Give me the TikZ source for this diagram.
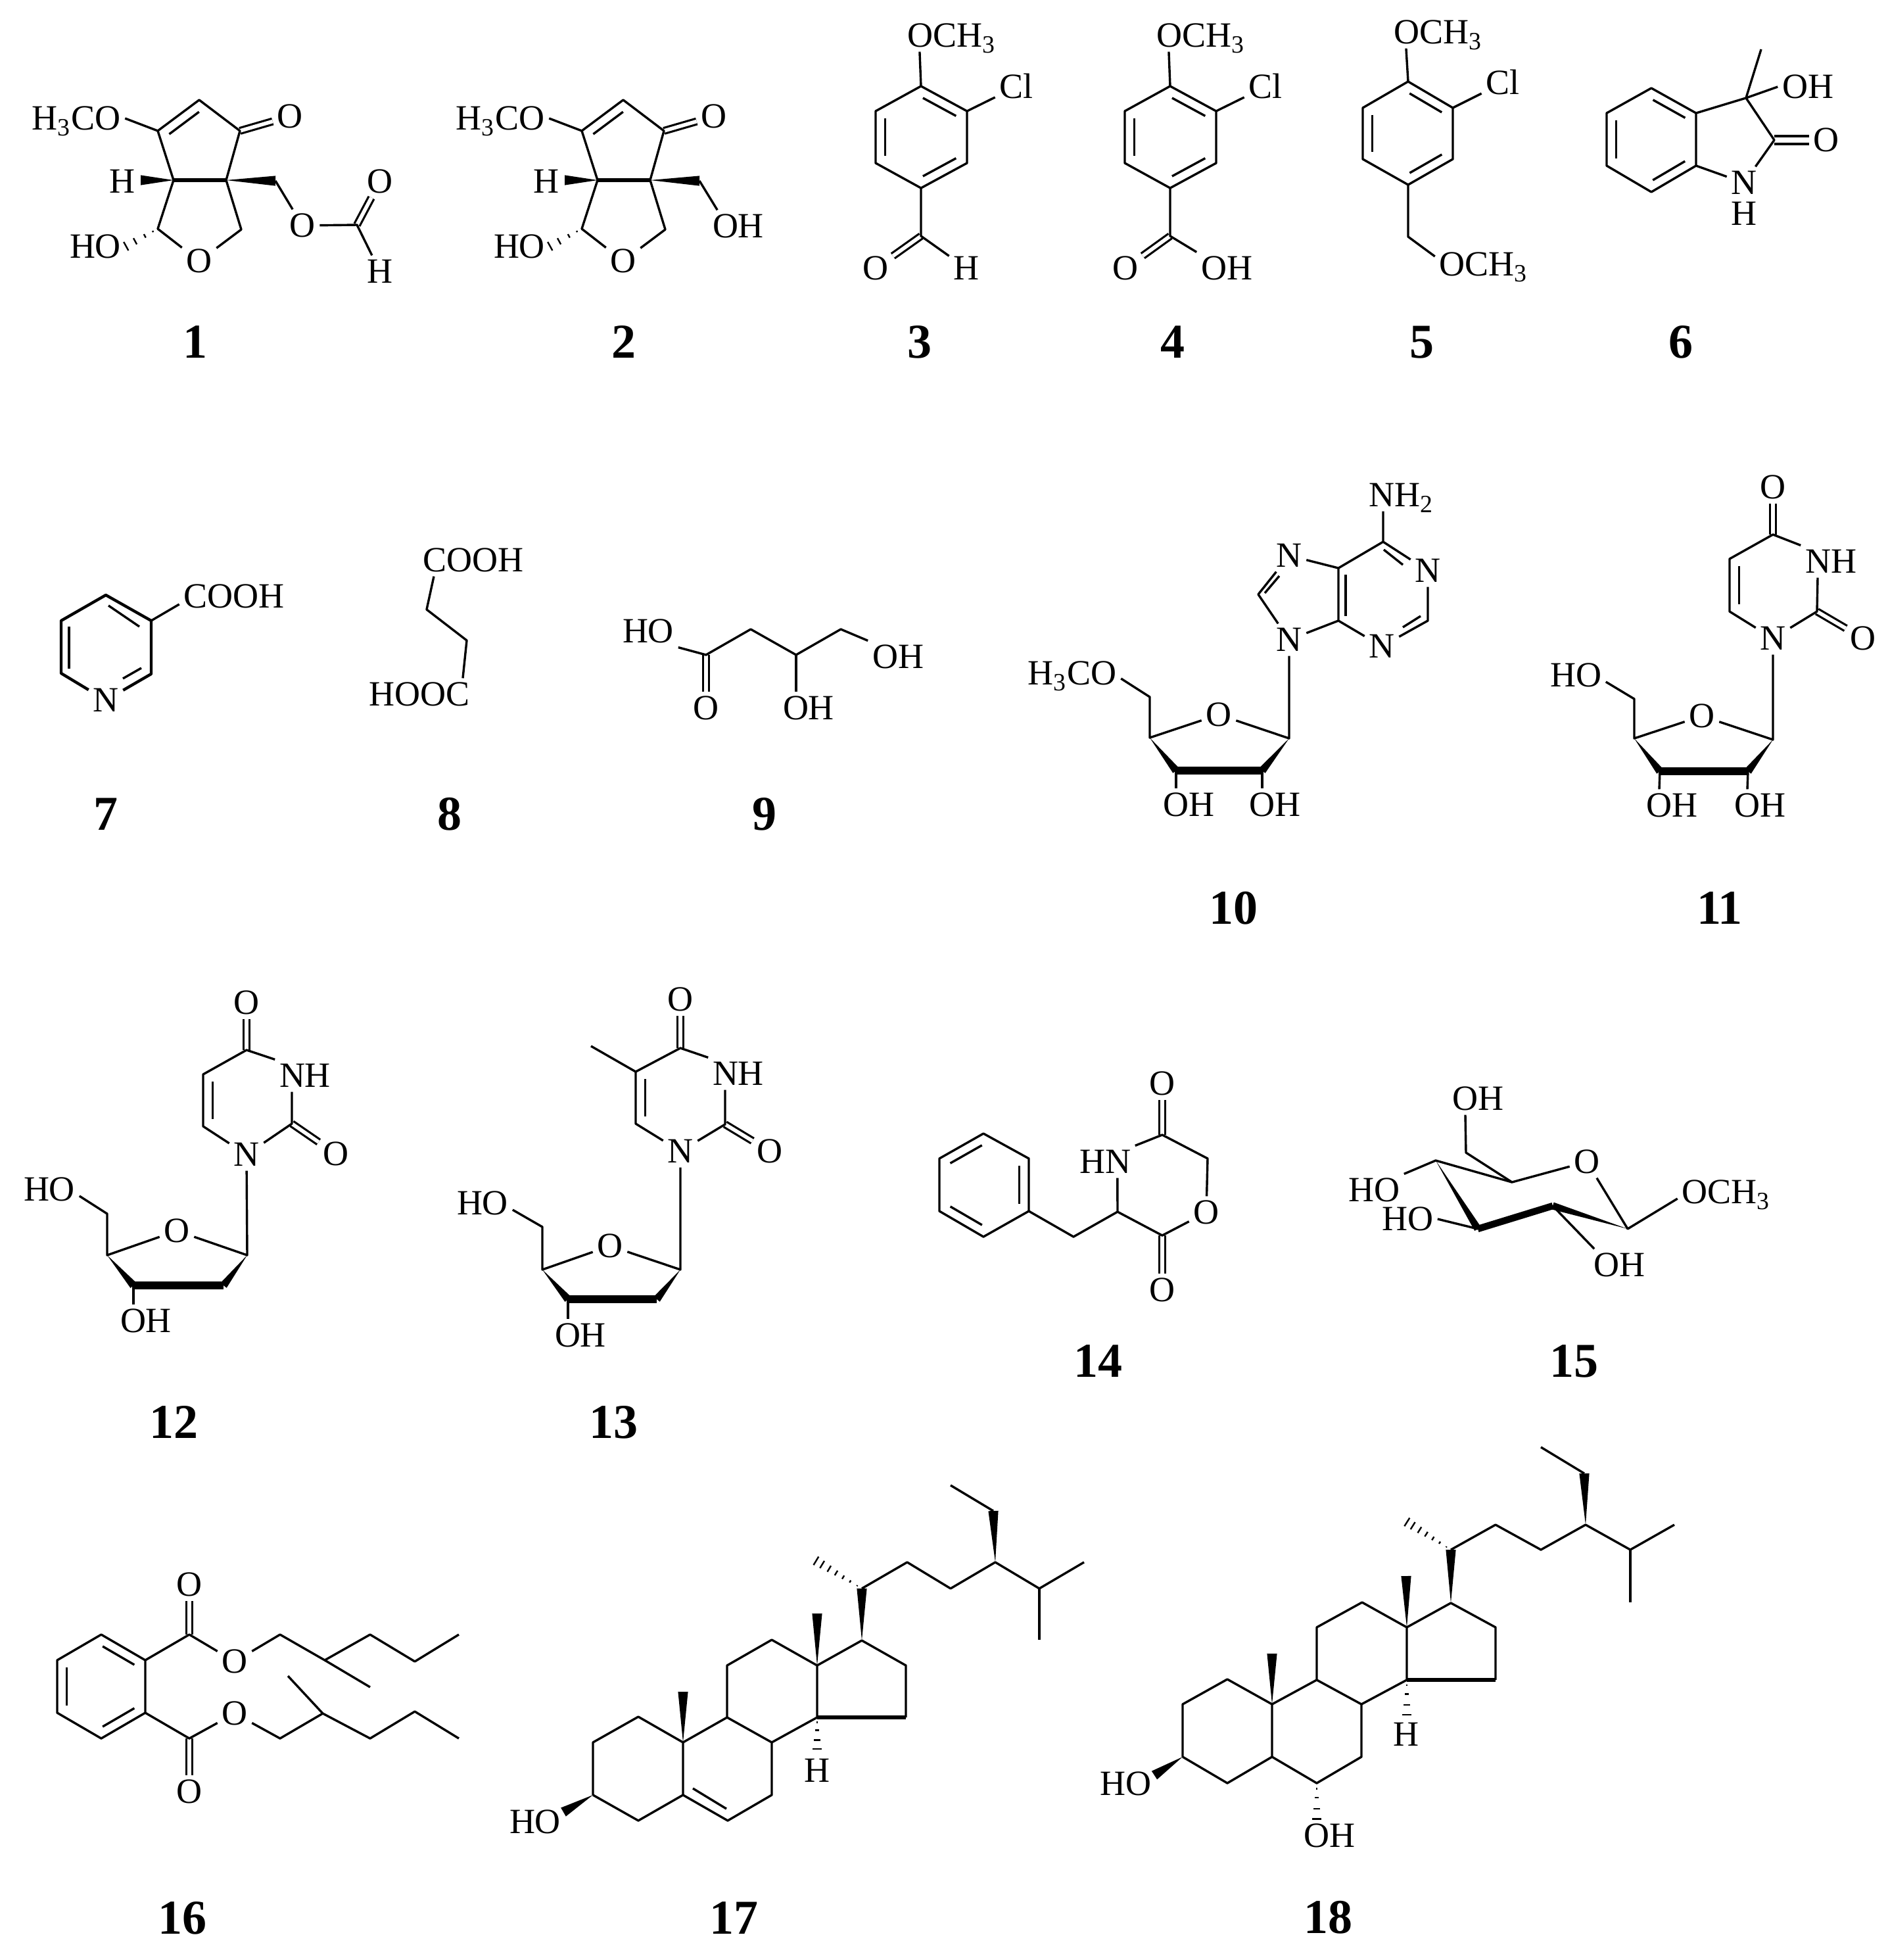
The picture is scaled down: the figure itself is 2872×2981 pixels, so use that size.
\documentclass[tikz,border=0pt]{standalone}
\usepackage{fontspec}
\setmainfont{Liberation Serif}
\usetikzlibrary{calc}
\tikzstyle{atom}=[inner sep=1.5pt, text height=8.9pt, text depth=0pt, font=\fontsize{13.5}{15}\selectfont]
\tikzstyle{molnum}=[inner sep=0pt, text height=12.5pt, text depth=0pt, font=\fontsize{18.5}{20}\selectfont\bfseries]
\tikzstyle{bond}=[line width=.85pt, line join=round]
\tikzstyle{dbl}=[line width=.8pt, double, double distance=1.4pt]
\tikzstyle{boldb}=[line width=3pt, line join=round]
\tikzstyle{midb}=[line width=1.5pt]
\newcommand{\bondin}[2]{\draw[bond] ($(#1)!.14!(#2)!3.6pt!90:(#2)$) -- ($(#2)!.14!(#1)!3.6pt!-90:(#1)$);}
\newcommand{\wedgebond}[3][1.9pt]{\fill (#2) -- ($(#3)!#1!90:(#2)$) -- ($(#3)!#1!-90:(#2)$) -- cycle;}
\newcommand{\hashbond}[3][.15,.4,.7,.98]{\foreach \p in {#1}{\draw[line width=.6pt] ($(#2)!\p!(#3)!\p*1.9pt!90:(#3)$) -- ($(#2)!\p!(#3)!\p*1.9pt!-90:(#3)$);}}
\begin{document}
\begin{tikzpicture}[x=.25pt,y=-.25pt]
\useasboundingbox (0,0) rectangle (2872,2981);

\begin{scope}[name prefix=m1-]
\coordinate (c1) at (303,152); \coordinate (c2) at (240,199); \coordinate (c3) at (365,199);
\coordinate (c4) at (264,274); \coordinate (c5) at (344,274); \coordinate (c6) at (240,348);
\coordinate (c7) at (367,349); \coordinate (c8) at (419,275); \coordinate (c9) at (543,342);
\coordinate (hw) at (214,274);
\node[atom] (ome) at (116,180) {H\textsubscript{3}CO};
\node[atom] (ok) at (441,177) {O};
\node[atom] (h) at (186,276) {H};
\node[atom] (ho) at (145,375) {HO};
\node[atom] (o) at (303,397) {O};
\node[atom] (oe) at (460,343) {O};
\node[atom] (of) at (578,276) {O};
\node[atom] (hf) at (578,413) {H};
\draw[dbl] (c3) -- (ok);
\draw[dbl] (c9) -- (of);
\draw[bond] (c2) -- (c4) -- (c6) -- (o) -- (c7) -- (c5) -- (c3) -- (c1) -- (c2) -- (ome.east);
\draw[midb] (c4) -- (c5);
\draw[bond] (c8) -- (oe) -- (c9) -- (hf);
\bondin{c1}{c2}
\wedgebond{c4}{hw}
\wedgebond{c5}{c8}
\hashbond{c6}{ho.east}
\node[molnum] (n1) at (297,519) {1};
\end{scope}

\begin{scope}[name prefix=m2-]
\coordinate (c1) at (948,152); \coordinate (c2) at (885,199); \coordinate (c3) at (1010,199);
\coordinate (c4) at (909,274); \coordinate (c5) at (989,274); \coordinate (c6) at (885,348);
\coordinate (c7) at (1012,349); \coordinate (c8) at (1064,275);
\coordinate (hw) at (859,274);
\node[atom] (ome) at (761,180) {H\textsubscript{3}CO};
\node[atom] (ok) at (1086,177) {O};
\node[atom] (h) at (831,276) {H};
\node[atom] (ho) at (790,375) {HO};
\node[atom] (o) at (948,397) {O};
\node[atom] (oh) at (1123,344) {OH};
\draw[dbl] (c3) -- (ok);
\draw[bond] (c2) -- (c4) -- (c6) -- (o) -- (c7) -- (c5) -- (c3) -- (c1) -- (c2) -- (ome.east);
\draw[midb] (c4) -- (c5);
\draw[bond] (c8) -- ([xshift=3.5pt]oh.north west);
\bondin{c1}{c2}
\wedgebond{c4}{hw}
\wedgebond{c5}{c8}
\hashbond{c6}{ho.east}
\node[molnum] (n2) at (949,519) {2};
\end{scope}

\begin{scope}[name prefix=m3-]
\coordinate (a) at (1401,131); \coordinate (b) at (1471,169); \coordinate (c) at (1471,248);
\coordinate (d) at (1401,286); \coordinate (e) at (1332,248); \coordinate (f) at (1332,169);
\coordinate (g) at (1401,359);
\node[atom] (ome) at (1448,54) {OCH\textsubscript{3}};
\node[atom] (cl) at (1546,132) {Cl};
\node[atom] (o) at (1332,408) {O};
\node[atom] (h) at (1470,408) {H};
\draw[dbl] (g) -- (o);
\draw[bond] (a) -- (b) -- (c) -- (d) -- (e) -- (f) -- cycle;
\draw[bond] (a) -- ([xshift=6.3pt]ome.south west);
\draw[bond] (b) -- (cl);
\draw[bond] (d) -- (g) -- (h);
\bondin{b}{a}
\bondin{d}{c}
\bondin{f}{e}
\node[molnum] (n3) at (1399,519) {3};
\end{scope}

\begin{scope}[name prefix=m4-]
\coordinate (a) at (1780,131); \coordinate (b) at (1850,169); \coordinate (c) at (1850,248);
\coordinate (d) at (1780,286); \coordinate (e) at (1711,248); \coordinate (f) at (1711,169);
\coordinate (g) at (1780,359);
\node[atom] (ome) at (1827,54) {OCH\textsubscript{3}};
\node[atom] (cl) at (1925,132) {Cl};
\node[atom] (o) at (1712,408) {O};
\node[atom] (oh) at (1866,408) {OH};
\draw[dbl] (g) -- (o);
\draw[bond] (a) -- (b) -- (c) -- (d) -- (e) -- (f) -- cycle;
\draw[bond] (a) -- ([xshift=6.3pt]ome.south west);
\draw[bond] (b) -- (cl);
\draw[bond] (d) -- (g) -- (oh.north west);
\bondin{b}{a}
\bondin{d}{c}
\bondin{f}{e}
\node[molnum] (n4) at (1784,519) {4};
\end{scope}

\begin{scope}[name prefix=m5-]
\coordinate (a) at (2142,124); \coordinate (b) at (2210,164); \coordinate (c) at (2210,242);
\coordinate (d) at (2142,281); \coordinate (e) at (2073,242); \coordinate (f) at (2073,164);
\coordinate (g) at (2142,360);
\node[atom] (ome) at (2188,49) {OCH\textsubscript{3}};
\node[atom] (cl) at (2286,126) {Cl};
\node[atom] (oml) at (2257,402) {OCH\textsubscript{3}};
\draw[bond] (a) -- (b) -- (c) -- (d) -- (e) -- (f) -- cycle;
\draw[bond] (a) -- ([xshift=6.3pt]ome.south west);
\draw[bond] (b) -- (cl);
\draw[bond] (d) -- (g) -- ([yshift=3pt]oml.west);
\bondin{b}{a}
\bondin{d}{c}
\bondin{f}{e}
\node[molnum] (n5) at (2163,519) {5};
\end{scope}

\begin{scope}[name prefix=m6-]
\coordinate (a) at (2512,134); \coordinate (b) at (2580,172); \coordinate (c) at (2580,252);
\coordinate (d) at (2512,292); \coordinate (e) at (2444,252); \coordinate (f) at (2444,172);
\coordinate (g) at (2656,149); \coordinate (k) at (2699,213); \coordinate (me) at (2679,75);
\node[atom] (oh) at (2750,132) {OH};
\node[atom] (o) at (2778,213) {O};
\node[atom] (nn) at (2653,278) {N};
\node[atom, inner sep=0pt] (h) at (2653,325) {H};
\draw[dbl, double distance=2.2pt] (k) -- (o);
\draw[bond] (a) -- (b) -- (c) -- (d) -- (e) -- (f) -- cycle;
\draw[bond] (me) -- (g) -- (k) -- (nn) -- (c);
\draw[bond] (b) -- (g) -- (oh.west);
\bondin{b}{a}
\bondin{d}{c}
\bondin{f}{e}
\node[molnum] (n6) at (2557,519) {6};
\end{scope}

\begin{scope}[name prefix=m7-]
\coordinate (a) at (161,905); \coordinate (b) at (230,944); \coordinate (c) at (230,1025);
\coordinate (e) at (93,1024); \coordinate (f) at (93,944);
\coordinate (i1) at (165,921); \coordinate (i2) at (212,953); \coordinate (i3) at (105,953);
\coordinate (i4) at (105,1017); \coordinate (i5) at (187,1032); \coordinate (i6) at (215,1016);
\node[atom] (nn) at (161,1065) {N};
\node[atom] (cooh) at (356,907) {COOH};
\draw[line width=1.1pt, line join=round] (nn) -- (e) -- (f) -- (a) -- (b) -- (c) -- (nn);
\draw[bond] (b) -- ([yshift=-3pt]cooh.west);
\draw[bond] (i1) -- (i2);
\draw[bond] (i3) -- (i4);
\draw[bond] (i5) -- (i6);
\node[molnum] (n7) at (161,1237) {7};
\end{scope}

\begin{scope}[name prefix=m8-]
\coordinate (a) at (649,927); \coordinate (b) at (710,974);
\node[atom] (cooh) at (720,852) {COOH};
\node[atom] (hooc) at (638,1056) {HOOC};
\draw[bond] ([xshift=-15pt]cooh.south) -- (a) -- (b) -- ([xshift=16.5pt]hooc.north);
\node[molnum] (n8) at (684,1237) {8};
\end{scope}

\begin{scope}[name prefix=m9-]
\coordinate (a) at (1074,996); \coordinate (b) at (1142,957); \coordinate (c) at (1211,996);
\coordinate (d) at (1279,957);
\node[atom] (ho) at (986,960) {HO};
\node[atom] (o) at (1074,1077) {O};
\node[atom] (oh) at (1230,1077) {OH};
\node[atom] (ohr) at (1366,999) {OH};
\draw[dbl] (a) -- (o);
\draw[bond] (ho.south east) -- (a) -- (b) -- (c) -- (d) -- (ohr.north west);
\draw[bond] (c) -- ([xshift=-4.75pt]oh.north);
\node[molnum] (n9) at (1163,1237) {9};
\end{scope}

\begin{scope}[name prefix=m10-]
\coordinate (c6) at (2104,824); \coordinate (c2) at (2172,944); \coordinate (c4) at (2036,944);
\coordinate (c5) at (2036,864); \coordinate (c8) at (1914,904);
\coordinate (c1p) at (1961,1123); \coordinate (c2p) at (1920,1172); \coordinate (c3p) at (1789,1172);
\coordinate (c4p) at (1749,1122); \coordinate (c5p) at (1749,1060);
\coordinate (i1) at (2105,836); \coordinate (i2) at (2134,859); \coordinate (i3) at (2134,954);
\coordinate (i4) at (2161,937); \coordinate (i5) at (2047,874); \coordinate (i6) at (2047,937);
\coordinate (i7) at (1924,902); \coordinate (i8) at (1946,876);
\node[atom] (nh) at (2132,753) {NH\textsubscript{2}};
\node[atom] (n1a) at (2172,868) {N};
\node[atom] (n3a) at (2102,983) {N};
\node[atom] (n7a) at (1961,845) {N};
\node[atom] (n9a) at (1961,973) {N};
\node[atom] (o) at (1854,1087) {O};
\node[atom] (ome) at (1631,1024) {H\textsubscript{3}CO};
\node[atom] (oh1) at (1808,1224) {OH};
\node[atom] (oh2) at (1939,1224) {OH};
\draw[bond] ([xshift=-7pt]nh.south) -- (c6) -- (n1a) -- (c2) -- (n3a) -- (c4) -- (c5) -- (c6);
\draw[bond] (c5) -- (n7a) -- (c8) -- (n9a) -- (c4);
\draw[bond] (i1) -- (i2);
\draw[bond] (i3) -- (i4);
\draw[bond] (i5) -- (i6);
\draw[bond] (i7) -- (i8);
\draw[bond] (n9a) -- (c1p) -- (o) -- (c4p) -- (c5p) -- ([yshift=-2pt]ome.east);
\draw[boldb] (c3p) -- (c2p);
\wedgebond[1.5pt]{c4p}{c3p}
\wedgebond[1.5pt]{c1p}{c2p}
\draw[bond] (c3p) -- ([xshift=-4.75pt]oh1.north);
\draw[bond] (c2p) -- ([xshift=-4.75pt]oh2.north);
\node[molnum] (n10) at (1876,1380) {10};
\end{scope}

\begin{scope}[name prefix=m11-]
\coordinate (c4) at (2697,813); \coordinate (c5) at (2631,850); \coordinate (c6) at (2631,930);
\coordinate (c2) at (2764,930);
\coordinate (c1p) at (2697,1125); \coordinate (c2p) at (2659,1173); \coordinate (c3p) at (2525,1173);
\coordinate (c4p) at (2486,1123); \coordinate (c5p) at (2486,1063);
\node[atom] (ot) at (2697,741) {O};
\node[atom] (nh) at (2785,854) {NH};
\node[atom] (n1a) at (2697,971) {N};
\node[atom] (or) at (2834,971) {O};
\node[atom] (o) at (2589,1089) {O};
\node[atom] (ho) at (2397,1027) {HO};
\node[atom] (oh1) at (2543,1225) {OH};
\node[atom] (oh2) at (2677,1225) {OH};
\draw[dbl] (c4) -- (ot);
\draw[dbl] (c2) -- (or);
\draw[bond] (n1a) -- (c6) -- (c5) -- (c4) -- (nh.north west);
\draw[bond] ([xshift=-5pt]nh.south) -- (c2) -- (n1a);
\bondin{c5}{c6}
\draw[bond] (n1a) -- (c1p) -- (o) -- (c4p) -- (c5p) -- ([yshift=-2.5pt]ho.east);
\draw[boldb] (c3p) -- (c2p);
\wedgebond[1.5pt]{c4p}{c3p}
\wedgebond[1.5pt]{c1p}{c2p}
\draw[bond] (c3p) -- ([xshift=-4.75pt]oh1.north);
\draw[bond] (c2p) -- ([xshift=-4.75pt]oh2.north);
\node[molnum] (n11) at (2616,1380) {11};
\end{scope}

\begin{scope}[name prefix=m12-]
\coordinate (c4) at (375,1597); \coordinate (c5) at (309,1634); \coordinate (c6) at (309,1713);
\coordinate (c2) at (444,1709);
\coordinate (c1p) at (376,1909); \coordinate (c2p) at (340,1955); \coordinate (c3p) at (203,1955);
\coordinate (c4p) at (163,1909); \coordinate (c5p) at (163,1846);
\node[atom] (ot) at (375,1525) {O};
\node[atom] (nh) at (464,1636) {NH};
\node[atom] (n1a) at (375,1756) {N};
\node[atom] (or) at (511,1755) {O};
\node[atom] (o) at (269,1872) {O};
\node[atom] (ho) at (75,1809) {HO};
\node[atom] (oh) at (222,2009) {OH};
\draw[dbl] (c4) -- (ot);
\draw[dbl] (c2) -- (or);
\draw[bond] (n1a) -- (c6) -- (c5) -- (c4) -- (nh.north west);
\draw[bond] ([xshift=-5pt]nh.south) -- (c2) -- (n1a);
\bondin{c5}{c6}
\draw[bond] (n1a) -- (c1p) -- (o) -- (c4p) -- (c5p) -- ([yshift=-2.5pt]ho.east);
\draw[boldb] (c3p) -- (c2p);
\wedgebond[1.5pt]{c4p}{c3p}
\wedgebond[1.5pt]{c1p}{c2p}
\draw[bond] (c3p) -- ([xshift=-4.75pt]oh.north);
\node[molnum] (n12) at (264,2162) {12};
\end{scope}

\begin{scope}[name prefix=m13-]
\coordinate (c4) at (1035,1594); \coordinate (c5) at (967,1630); \coordinate (c6) at (967,1709);
\coordinate (c2) at (1103,1710); \coordinate (me) at (899,1591);
\coordinate (c1p) at (1035,1931); \coordinate (c2p) at (999,1976); \coordinate (c3p) at (864,1976);
\coordinate (c4p) at (825,1931); \coordinate (c5p) at (825,1866);
\node[atom] (ot) at (1035,1520) {O};
\node[atom] (nh) at (1123,1633) {NH};
\node[atom] (n1a) at (1035,1751) {N};
\node[atom] (or) at (1171,1751) {O};
\node[atom] (o) at (928,1895) {O};
\node[atom] (ho) at (734,1830) {HO};
\node[atom] (oh) at (883,2031) {OH};
\draw[dbl] (c4) -- (ot);
\draw[dbl] (c2) -- (or);
\draw[bond] (n1a) -- (c6) -- (c5) -- (c4) -- (nh.north west);
\draw[bond] (c5) -- (me);
\draw[bond] ([xshift=-5pt]nh.south) -- (c2) -- (n1a);
\bondin{c5}{c6}
\draw[bond] (n1a) -- (c1p) -- (o) -- (c4p) -- (c5p) -- ([yshift=-2.5pt]ho.east);
\draw[boldb] (c3p) -- (c2p);
\wedgebond[1.5pt]{c4p}{c3p}
\wedgebond[1.5pt]{c1p}{c2p}
\draw[bond] (c3p) -- ([xshift=-4.75pt]oh.north);
\node[molnum] (n13) at (933,2162) {13};
\end{scope}

\begin{scope}[name prefix=m14-]
\coordinate (a) at (1496,1724); \coordinate (b) at (1565,1762); \coordinate (c) at (1565,1842);
\coordinate (d) at (1496,1881); \coordinate (e) at (1429,1842); \coordinate (f) at (1429,1762);
\coordinate (g) at (1633,1881); \coordinate (h) at (1700,1843); \coordinate (k) at (1768,1726);
\coordinate (l) at (1837,1762); \coordinate (m) at (1768,1879);
\node[atom] (hn) at (1681,1767) {HN};
\node[atom] (ot) at (1768,1648) {O};
\node[atom] (or) at (1835,1844) {O};
\node[atom] (ob) at (1768,1962) {O};
\draw[dbl] (k) -- (ot);
\draw[dbl] (m) -- (ob);
\draw[bond] (a) -- (b) -- (c) -- (d) -- (e) -- (f) -- cycle;
\draw[bond] (c) -- (g) -- (h) -- ([xshift=4.7pt]hn.south);
\draw[bond] (hn.north east) -- (k) -- (l) -- (or) -- (m) -- (h);
\bondin{a}{f}
\bondin{c}{b}
\bondin{e}{d}
\node[molnum] (n14) at (1670,2069) {14};
\end{scope}

\begin{scope}[name prefix=m15-]
\coordinate (c1) at (2476,1869); \coordinate (c2) at (2362,1834); \coordinate (c3) at (2248,1869);
\coordinate (c4) at (2184,1765); \coordinate (c5) at (2300,1798); \coordinate (c6) at (2230,1753);
\node[atom] (oh) at (2248,1671) {OH};
\node[atom] (o) at (2414,1767) {O};
\node[atom] (ome) at (2626,1813) {OCH\textsubscript{3}};
\node[atom] (ho1) at (2090,1810) {HO};
\node[atom] (ho2) at (2141,1854) {HO};
\node[atom] (ohb) at (2463,1924) {OH};
\draw[bond] ([xshift=-4.75pt]oh.south) -- (c6) -- (c5) -- (o) -- (c1) -- ([yshift=-2.5pt]ome.west);
\draw[bond] (ho1.north east) -- (c4) -- (c5);
\draw[bond] (ho2.east) -- (c3);
\draw[bond] (c2) -- ([xshift=2pt]ohb.north west);
\draw[line width=2.6pt] (c3) -- (c2);
\wedgebond[1.4pt]{c4}{c3}
\wedgebond[1.4pt]{c1}{c2}
\node[molnum] (n15) at (2394,2069) {15};
\end{scope}

\begin{scope}[name prefix=m16-]
\coordinate (a) at (221,2525); \coordinate (b) at (221,2605); \coordinate (c) at (154,2644);
\coordinate (d) at (87,2605); \coordinate (e) at (87,2525); \coordinate (f) at (154,2486);
\coordinate (g) at (288,2486); \coordinate (h) at (426,2486); \coordinate (k) at (494,2525);
\coordinate (l) at (563,2566); \coordinate (m) at (563,2486); \coordinate (p) at (631,2527);
\coordinate (q) at (698,2486);
\coordinate (r) at (288,2644); \coordinate (s) at (426,2644); \coordinate (t) at (491,2606);
\coordinate (u) at (438,2549); \coordinate (v) at (563,2644); \coordinate (w) at (631,2603);
\coordinate (z) at (698,2644);
\node[atom] (ot) at (288,2410) {O};
\node[atom] (o1) at (357,2527) {O};
\node[atom] (ob) at (288,2725) {O};
\node[atom] (o2) at (357,2606) {O};
\draw[dbl] (g) -- (ot);
\draw[dbl] (r) -- (ob);
\draw[bond] (a) -- (b) -- (c) -- (d) -- (e) -- (f) -- cycle;
\draw[bond] (a) -- (g) -- (o1) -- (h) -- (k) -- (m) -- (p) -- (q);
\draw[bond] (k) -- (l);
\draw[bond] (b) -- (r) -- (o2) -- (s) -- (t) -- (v) -- (w) -- (z);
\draw[bond] (t) -- (u);
\bondin{a}{f}
\bondin{c}{b}
\bondin{e}{d}
\node[molnum] (n16) at (277,2916) {16};
\end{scope}

\begin{scope}[name prefix=m17-]
\coordinate (c1) at (971,2611); \coordinate (c2) at (902,2650); \coordinate (c3) at (902,2730);
\coordinate (c4) at (971,2769); \coordinate (c5) at (1039,2730); \coordinate (c6) at (1107,2769);
\coordinate (c7) at (1174,2730); \coordinate (c8) at (1174,2650); \coordinate (c9) at (1106,2612);
\coordinate (c10) at (1039,2650); \coordinate (c11) at (1106,2533); \coordinate (c12) at (1174,2494);
\coordinate (c13) at (1243,2533); \coordinate (c14) at (1243,2612); \coordinate (c15) at (1378,2612);
\coordinate (c16) at (1378,2533); \coordinate (c17) at (1311,2495); \coordinate (c18) at (1243,2454);
\coordinate (c19) at (1039,2573); \coordinate (c20) at (1311,2416); \coordinate (c21) at (1240,2373);
\coordinate (c22) at (1380,2376); \coordinate (c23) at (1446,2416); \coordinate (c24) at (1514,2376);
\coordinate (c25) at (1581,2416); \coordinate (c26) at (1649,2376); \coordinate (c27) at (1581,2494);
\coordinate (c28) at (1511,2298); \coordinate (c29) at (1446,2259);
\coordinate (w) at (857,2756); \coordinate (i1) at (1054,2720); \coordinate (i2) at (1105,2751);
\coordinate (hh) at (1243,2661);
\node[atom] (ho) at (814,2771) {HO};
\node[atom] (h) at (1243,2693) {H};
\draw[bond] (c3) -- (c2) -- (c1) -- (c10) -- (c5) -- (c4) -- (c3);
\draw[bond] (c5) -- (c6) -- (c7) -- (c8) -- (c9) -- (c10);
\draw[bond] (c9) -- (c11) -- (c12) -- (c13) -- (c14) -- (c8);
\draw[bond] (c13) -- (c17) -- (c16) -- (c15);
\draw[midb] (c15) -- (c14);
\draw[bond] (i1) -- (i2);
\draw[bond] (c20) -- (c22) -- (c23) -- (c24) -- (c25) -- (c26);
\draw[bond] (c25) -- (c27);
\draw[bond] (c28) -- (c29);
\wedgebond{c10}{c19}
\wedgebond{c13}{c18}
\wedgebond{c17}{c20}
\wedgebond{c24}{c28}
\wedgebond{c3}{w}
\hashbond{c14}{hh}
\hashbond[.1,.25,.4,.55,.7,.85,.98]{c20}{c21}
\node[molnum] (n17) at (1116,2916) {17};
\end{scope}

\begin{scope}[name prefix=m18-]
\coordinate (c1) at (1867,2554); \coordinate (c2) at (1799,2592); \coordinate (c3) at (1799,2672);
\coordinate (c4) at (1867,2712); \coordinate (c5) at (1935,2672); \coordinate (c6) at (2003,2712);
\coordinate (c7) at (2071,2672); \coordinate (c8) at (2071,2592); \coordinate (c9) at (2003,2555);
\coordinate (c10) at (1935,2592); \coordinate (c11) at (2003,2475); \coordinate (c12) at (2072,2437);
\coordinate (c13) at (2140,2475); \coordinate (c14) at (2140,2555); \coordinate (c15) at (2275,2555);
\coordinate (c16) at (2275,2475); \coordinate (c17) at (2207,2438); \coordinate (c18) at (2139,2397);
\coordinate (c19) at (1935,2515); \coordinate (c20) at (2207,2357); \coordinate (c21) at (2139,2314);
\coordinate (c22) at (2275,2319); \coordinate (c23) at (2344,2357); \coordinate (c24) at (2412,2319);
\coordinate (c25) at (2480,2357); \coordinate (c26) at (2547,2319); \coordinate (c27) at (2480,2437);
\coordinate (c28) at (2410,2241); \coordinate (c29) at (2344,2201);
\coordinate (w) at (1756,2700); \coordinate (hh) at (2140,2609);
\node[atom] (ho) at (1712,2713) {HO};
\node[atom] (h) at (2139,2638) {H};
\node[atom] (oh) at (2022,2792) {OH};
\draw[bond] (c3) -- (c2) -- (c1) -- (c10) -- (c5) -- (c4) -- (c3);
\draw[bond] (c5) -- (c6) -- (c7) -- (c8) -- (c9) -- (c10);
\draw[bond] (c9) -- (c11) -- (c12) -- (c13) -- (c14) -- (c8);
\draw[bond] (c13) -- (c17) -- (c16) -- (c15);
\draw[midb] (c15) -- (c14);
\draw[bond] (c20) -- (c22) -- (c23) -- (c24) -- (c25) -- (c26);
\draw[bond] (c25) -- (c27);
\draw[bond] (c28) -- (c29);
\wedgebond{c10}{c19}
\wedgebond{c13}{c18}
\wedgebond{c17}{c20}
\wedgebond{c24}{c28}
\wedgebond{c3}{w}
\hashbond{c14}{hh}
\hashbond[.1,.25,.4,.55,.7,.85,.98]{c20}{c21}
\hashbond{c6}{[xshift=-4.75pt]oh.north}
\node[molnum] (n18) at (2020,2915) {18};
\end{scope}
\end{tikzpicture}
\end{document}
